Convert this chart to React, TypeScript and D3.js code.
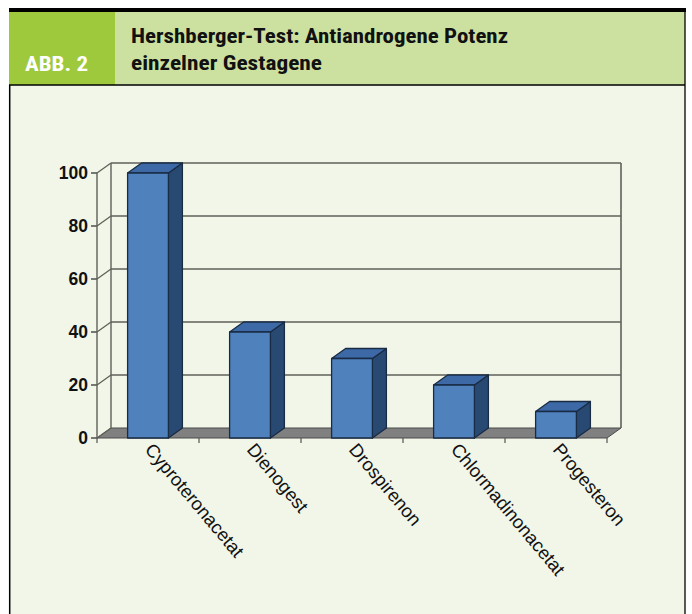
import React from "react";
import * as d3 from "d3";

const categories = ["Cyproteronacetat", "Dienogest", "Drospirenon", "Chlormadinonacetat", "Progesteron"];
const values = [100, 40, 30, 20, 10];
const yTicks = [0, 20, 40, 60, 80, 100];
const figLabel = "ABB. 2";
const titleLines = ["Hershberger-Test: Antiandrogene Potenz", "einzelner Gestagene"];

const W = 692;
const H = 614;
const DX = 14;
const DY = -10;

export default function App() {
  const x = d3.scaleBand<string>().domain(categories).range([97, 607]).paddingInner(0.6).paddingOuter(0.3);
  const xb = d3.scaleBand<string>().domain(categories).range([97, 607]).padding(0);
  const y = d3.scaleLinear().domain([0, 100]).range([438, 173]);
  const y0 = y(0);
  const xL = 97;
  const xR = 607;
  const pts = (a: number[][]) => a.map((p) => p.join(",")).join(" ");
  const boundaries = [xL, ...categories.map((c) => (xb(c) as number) + xb.bandwidth())];
  const condensed = "'Liberation Sans Narrow', 'Arial Narrow', 'Roboto Condensed', 'Liberation Sans', sans-serif";

  return (
    <svg width={W} height={H} style={{ position: "absolute", left: 0, top: 0 }}>
      <rect x={0} y={0} width={W} height={H} fill="#ffffff" />
      {/* header */}
      <rect x={9} y={12} width={676} height={73} fill="#cce19f" />
      <rect x={9} y={12} width={106} height={73} fill="#9ec93c" />
      <rect x={9} y={8} width={677} height={4} fill="#000" />
      <rect x={9} y={85} width={676} height={H - 85} fill="#f2f6e9" />
      <line x1={9} y1={85} x2={685} y2={85} stroke="#000" strokeWidth={1.3} />
      <line x1={9.7} y1={85} x2={9.7} y2={H} stroke="#000" strokeWidth={1.5} />
      <line x1={685} y1={12} x2={685} y2={H} stroke="#000" strokeWidth={1.3} />
      <text x={25} y={71} fill="#fff" fontFamily={condensed} fontWeight="bold" fontSize={21} textLength={63} lengthAdjust="spacingAndGlyphs">{figLabel}</text>
      <text x={131} y={43} fill="#111" fontFamily={condensed} fontWeight="bold" fontSize={21} textLength={377} lengthAdjust="spacingAndGlyphs">{titleLines[0]}</text>
      <text x={131} y={70} fill="#111" fontFamily={condensed} fontWeight="bold" fontSize={21} textLength={191} lengthAdjust="spacingAndGlyphs">{titleLines[1]}</text>

      {/* floor */}
      <polygon points={pts([[xL, y0], [xL + DX, y0 + DY], [xR + DX, y0 + DY], [xR, y0]])} fill="#808080" stroke="#4a4a4a" strokeWidth={1} />
      {/* back wall gridlines */}
      {yTicks.map((t) => (
        <g key={"g" + t}>
          {t > 0 && <line x1={xL + DX} y1={y(t) + DY} x2={xR + DX} y2={y(t) + DY} stroke="#5f6158" strokeWidth={1.6} />}
          <line x1={xL} y1={y(t)} x2={xL + DX} y2={y(t) + DY} stroke="#5f6158" strokeWidth={1.3} />
          <line x1={xL - 6} y1={y(t)} x2={xL} y2={y(t)} stroke="#333" strokeWidth={1.3} />
          <text x={88} y={y(t)} dy="0.36em" textAnchor="end" fontFamily="'Liberation Sans', Arial, sans-serif" fontWeight="bold" fontSize={17.5} fill="#111">{t}</text>
        </g>
      ))}
      <line x1={xL + DX} y1={y(100) + DY} x2={xL + DX} y2={y0 + DY} stroke="#5f6158" strokeWidth={1.4} />
      <line x1={xR + DX} y1={y(100) + DY} x2={xR + DX} y2={y0 + DY} stroke="#5f6158" strokeWidth={1.6} />
      <line x1={xL} y1={y(100)} x2={xL} y2={y0} stroke="#5f6158" strokeWidth={1.4} />
      {/* category ticks */}
      {boundaries.map((b, i) => (
        <line key={"t" + i} x1={b} y1={y0} x2={b} y2={y0 + 5} stroke="#555" strokeWidth={1.2} />
      ))}

      {/* bars */}
      {categories.map((c, i) => {
        const bx = x(c) as number;
        const bw = x.bandwidth();
        const yv = y(values[i]);
        return (
          <g key={c} stroke="#1a2b44" strokeWidth={1.3} strokeLinejoin="round">
            <polygon points={pts([[bx + bw, yv], [bx + bw + DX, yv + DY], [bx + bw + DX, y0 + DY], [bx + bw, y0]])} fill="#284a72" />
            <polygon points={pts([[bx, yv], [bx + DX, yv + DY], [bx + bw + DX, yv + DY], [bx + bw, yv]])} fill="#3d6aa6" />
            <rect x={bx} y={yv} width={bw} height={y0 - yv} fill="#4f81bd" />
          </g>
        );
      })}

      {/* x labels */}
      {categories.map((c) => {
        const cx = (xb(c) as number) + xb.bandwidth() / 2;
        return (
          <text key={"l" + c} transform={`translate(${cx - 4},${y0 + 12}) rotate(50)`} fontFamily="'Liberation Sans', Arial, sans-serif" fontSize={18.5} fill="#111">{c}</text>
        );
      })}
    </svg>
  );
}
